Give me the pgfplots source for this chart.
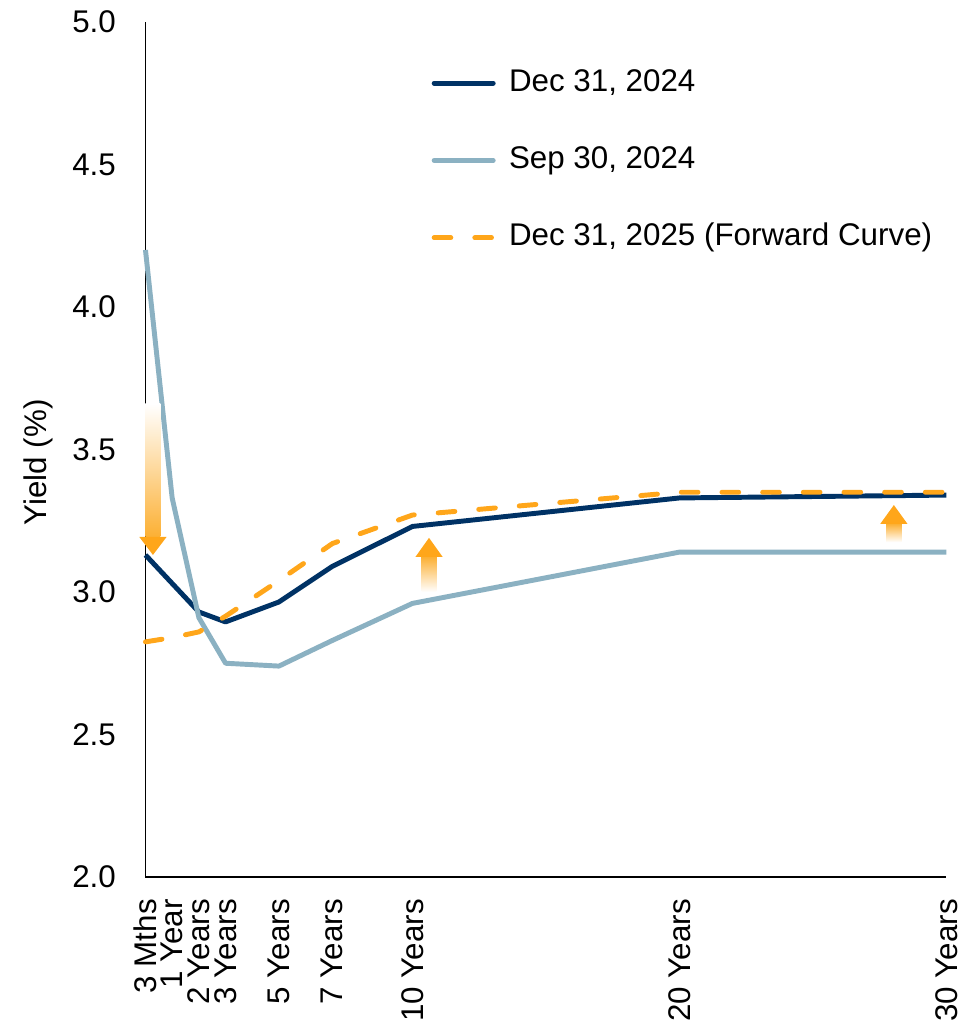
\documentclass[border=0pt]{standalone}
\usepackage{fontspec}
\setmainfont{Liberation Sans}
\usepackage{pgfplots}
\pgfplotsset{compat=1.18}
\definecolor{navy}{RGB}{0,50,101}
\definecolor{steel}{RGB}{139,177,194}
\definecolor{amber}{RGB}{255,166,26}
\definecolor{arrowor}{RGB}{252,176,52}

\begin{document}
\begin{tikzpicture}[font=\fontsize{23.5}{28}\selectfont]
\begin{axis}[
    name=ax,
    scale only axis,
    width=600.75pt,
    height=641.25pt,
    xmin=0, xmax=30,
    ymin=2, ymax=5,
    clip=false,
    axis x line=bottom,
    axis y line=left,
    axis line style={-, line width=0.9pt, black},
    major tick length=0pt,
    xtick={0,1,2,3,5,7,10,20,30},
    xticklabels={3 Mths,1 Year,2 Years,3 Years,5 Years,7 Years,10 Years,20 Years,30 Years},
    xticklabel style={rotate=90, anchor=east, inner sep=0pt},
    xticklabel shift=16.5pt,
    ytick={2,2.5,3,3.5,4,4.5,5},
    yticklabel style={inner sep=0pt, /pgf/number format/.cd, fixed, fixed zerofill, precision=1, assume math mode=true},
    yticklabel shift=22pt,
    ylabel={Yield (\%)},
    ylabel style={at={(axis description cs:-0.134,0.485)}, anchor=center},
    legend cell align=left,
    legend style={draw=none, fill=none, at={(axis description cs:0.357,0.946)}, anchor=north west,
        inner sep=0pt, row sep=36pt,
        nodes={inner sep=0pt, text height=17pt, text depth=5pt},
        /tikz/every odd column/.append style={column sep=10pt}},
    legend image code/.code={\draw[#1, line cap=round] (0pt,0pt) -- (44.3pt,0pt);},
]
\addplot[navy, line width=3.7pt, line join=round] coordinates {
    (0,3.13) (1,3.03) (2,2.93) (3,2.895) (5,2.965) (7,3.09) (10,3.23) (20,3.33) (30,3.34)
};
\addlegendentry{Dec 31, 2024}
\addplot[steel, line width=3.7pt, line join=round] coordinates {
    (0,4.20) (1,3.33) (2,2.91) (3,2.75) (5,2.74) (7,2.83) (10,2.96) (20,3.14) (30,3.14)
};
\addlegendentry{Sep 30, 2024}
\addplot[amber, line width=3.7pt, line join=round, line cap=round, dash pattern=on 12.5pt off 18pt] coordinates {
    (0,2.825) (1,2.84) (2,2.86) (3,2.915) (5,3.04) (7,3.17) (10,3.27) (20,3.35) (30,3.35)
};
\addlegendentry{Dec 31, 2025 (Forward Curve)}

% gradient arrows
\shade[top color=white, bottom color=arrowor] (axis cs:0,3.193) rectangle (axis cs:0.56,3.66);
\fill[amber] (axis cs:-0.23,3.193) -- (axis cs:0.79,3.193) -- (axis cs:0.28,3.13) -- cycle;

\shade[top color=arrowor, bottom color=white] (axis cs:10.34,3.0) rectangle (axis cs:10.90,3.123);
\fill[amber] (axis cs:10.11,3.123) -- (axis cs:11.13,3.123) -- (axis cs:10.62,3.19) -- cycle;

\shade[top color=arrowor, bottom color=white] (axis cs:27.75,3.175) rectangle (axis cs:28.31,3.239);
\fill[amber] (axis cs:27.52,3.239) -- (axis cs:28.54,3.239) -- (axis cs:28.03,3.305) -- cycle;
\end{axis}
\pgfresetboundingbox
\path[use as bounding box] ([xshift=-109.1pt,yshift=-110.25pt]ax.south west) rectangle ([xshift=23.6pt,yshift=16.5pt]ax.north east);
\end{tikzpicture}
\end{document}
